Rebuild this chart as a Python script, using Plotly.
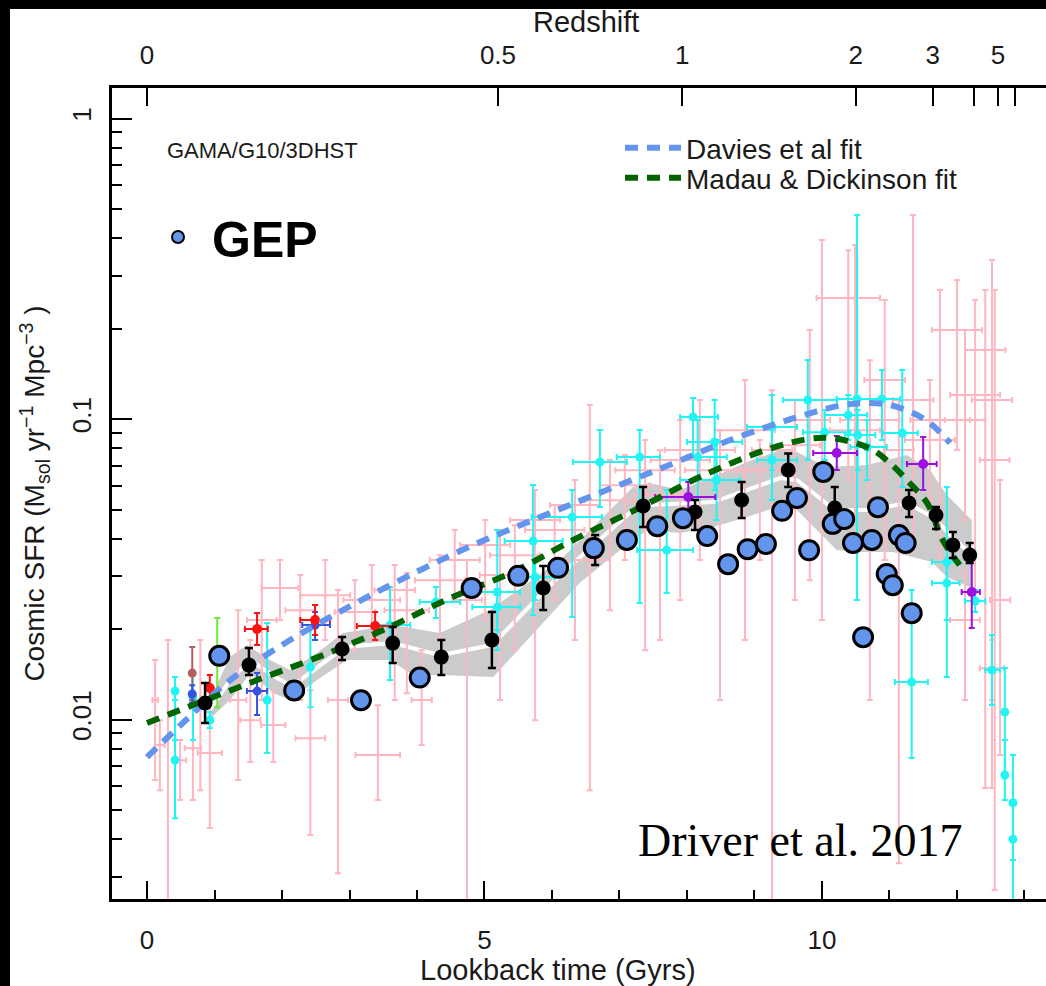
import numpy as np
import plotly.graph_objects as go

# ---------------- data (lookback time in Gyr, SFR density in Msol/yr/Mpc^3) ----------------
gep_t = [1.07, 2.18, 3.17, 4.04, 4.81, 5.50, 6.09, 6.62, 7.11, 7.56, 7.94, 8.30, 8.61, 8.90, 9.17,
         9.41, 9.63, 9.81, 10.02, 10.16, 10.33, 10.46, 10.61, 10.74, 10.83, 10.96, 11.05, 11.14, 11.24, 11.33]
gep_sfr = [0.0163, 0.0125, 0.0116, 0.0138, 0.0274, 0.0301, 0.0320, 0.0372, 0.0396, 0.0440, 0.0468, 0.0408,
           0.0329, 0.0369, 0.0384, 0.0495, 0.0546, 0.0366, 0.0667, 0.0448, 0.0465, 0.0387, 0.0188, 0.0396,
           0.0509, 0.0305, 0.0280, 0.0411, 0.0387, 0.0226]

gama_t = [0.86, 1.51, 2.89, 3.64, 4.36, 5.11, 5.87, 6.64, 7.35, 8.12, 8.81, 9.50, 10.19, 11.29, 11.69, 11.94, 12.19]
gama_sfr = [0.01135, 0.01518, 0.01717, 0.01797, 0.01614, 0.01839, 0.02739, 0.03664, 0.05134, 0.04903,
            0.05375, 0.06765, 0.05057, 0.05254, 0.04792, 0.03807, 0.03526]
gama_hi = [0.01323, 0.01731, 0.01881, 0.02032, 0.01839, 0.02280, 0.03243, 0.04111, 0.05938, 0.05375,
           0.06170, 0.07676, 0.05938, 0.05803, 0.05096, 0.04207, 0.03868]
gama_lo = [0.00974, 0.01406, 0.01578, 0.01542, 0.01406, 0.01484, 0.02314, 0.03267, 0.04371, 0.04272,
           0.04684, 0.05938, 0.04719, 0.04719, 0.04304, 0.03447, 0.03317]

band_upper_t = [0.89, 1.23, 1.48, 1.82, 2.12, 2.52, 2.90, 3.64, 4.34, 5.08, 6.12, 7.20, 7.45, 7.90, 8.39,
                8.89, 9.38, 9.63, 10.07, 10.67, 11.26, 11.60, 11.85, 12.22]
band_upper = [0.01118, 0.01615, 0.0177, 0.01578, 0.01462, 0.01665, 0.01941, 0.02063, 0.01941, 0.02314,
              0.03395, 0.05938, 0.06124, 0.05803, 0.06412, 0.07193, 0.07881, 0.07762, 0.06922, 0.07028,
              0.07591, 0.06765, 0.05585, 0.04613]
band_lower_t = [0.96, 1.23, 1.53, 1.87, 2.12, 2.52, 2.96, 3.60, 3.94, 4.34, 5.13, 6.41, 7.01, 7.41, 7.90,
                8.39, 8.89, 9.33, 9.63, 10.22, 10.56, 11.05, 11.63, 11.85, 12.22]
band_lower = [0.01019, 0.01161, 0.01428, 0.01225, 0.01161, 0.01353, 0.01578, 0.01578, 0.01406, 0.01406,
              0.01385, 0.02845, 0.03664, 0.04271, 0.04174, 0.04371, 0.04719, 0.05096, 0.04980, 0.03664,
              0.03608, 0.03608, 0.03343, 0.02980, 0.02739]
median_t = [0.93, 1.23, 1.53, 1.90, 2.15, 2.52, 2.93, 3.64, 4.34, 5.11, 6.12, 7.20, 7.45, 8.39, 8.89, 9.38,
            9.63, 10.19, 10.71, 11.26, 11.67, 11.90, 12.22]
median_sfr = [0.01076, 0.01353, 0.01578, 0.01385, 0.01292, 0.01495, 0.01743, 0.01797, 0.01639, 0.01770,
              0.03027, 0.04980, 0.05174, 0.05294, 0.05803, 0.06364, 0.06266, 0.04980, 0.04980, 0.05254,
              0.04684, 0.04111, 0.03526]

davies_t = [0.0, 0.53, 1.27, 2.12, 3.01, 3.90, 4.83, 5.79, 6.74, 7.70, 8.64, 9.64, 10.31, 10.67, 11.01,
            11.35, 11.60, 11.90]
davies_sfr = [0.00750, 0.00974, 0.01374, 0.01839, 0.02386, 0.03027, 0.03807, 0.04684, 0.05716, 0.06975,
              0.08513, 0.1016, 0.1113, 0.1130, 0.1113, 0.1047, 0.0970, 0.0832]
madau_t = [0.0, 0.68, 1.67, 2.61, 3.56, 4.49, 5.42, 6.37, 7.26, 8.19, 9.16, 9.79, 10.12, 10.44, 10.76,
           11.04, 11.30, 11.56, 11.79, 12.04]
madau_sfr = [0.00974, 0.01118, 0.01364, 0.01639, 0.02016, 0.02537, 0.03096, 0.04018, 0.05018, 0.06412,
             0.07881, 0.08579, 0.08647, 0.08385, 0.07881, 0.07028, 0.06124, 0.05254, 0.03957, 0.03267]

cyan_t = [0.415, 0.415, 0.68, 0.93, 1.78, 2.42, 3.60, 4.28, 5.19, 5.19, 5.72, 5.75, 6.30, 6.71, 7.30, 7.70,
          8.09, 8.16, 8.41, 8.44, 9.26, 9.26, 9.79, 10.04, 10.39, 10.52, 10.53, 10.67, 10.89, 11.19, 11.85,
          11.85, 12.27, 11.33, 12.52, 12.71, 12.71, 12.83, 12.83]
cyan_t_lo = [0.415, 0.415, 0.68, 0.93, 1.78, 2.42, 3.41, 4.04, 4.79, 4.82, 5.30, 5.45, 5.70, 6.31, 6.96,
             7.26, 7.90, 8.00, 8.00, 7.90, 8.89, 9.04, 9.42, 9.72, 10.04, 10.22, 10.34, 10.42, 10.52, 10.90,
             11.63, 11.63, 12.12, 11.08, 12.42, 12.71, 12.71, 12.83, 12.83]
cyan_t_hi = [0.415, 0.415, 0.68, 0.93, 1.78, 2.42, 3.90, 4.64, 5.53, 5.53, 6.16, 6.04, 6.74, 7.11, 7.60,
             8.09, 8.46, 8.59, 8.82, 8.79, 9.63, 9.63, 10.22, 10.42, 10.67, 10.86, 10.79, 10.96, 11.16, 11.42,
             12.04, 12.04, 12.42, 11.57, 12.64, 12.71, 12.71, 12.83, 12.83]
cyan_sfr = [0.00733, 0.01244, 0.01188, 0.00996, 0.01161, 0.01495, 0.02063, 0.02460, 0.02657, 0.02368,
            0.03926, 0.02980, 0.04719, 0.07193, 0.07470, 0.03664, 0.1016, 0.07470, 0.08385, 0.06266,
            0.09406, 0.07304, 0.1157, 0.09045, 0.1031, 0.1166, 0.08848, 0.08069, 0.1166, 0.08983,
            0.03343, 0.02845, 0.02480, 0.01333, 0.01461, 0.01059, 0.00654, 0.00528, 0.00400]
cyan_hi = [0.01161, 0.01385, 0.01406, 0.01059, 0.02095, 0.02032, 0.02760, 0.02760, 0.04272, 0.02698,
           0.06030, 0.03395, 0.05803, 0.09191, 0.09191, 0.05803, 0.1175, 0.09924, 0.1157, 0.08513,
           0.1202, 0.09191, 0.1572, 0.1072, 0.1202, 0.4775, 0.1072, 0.09924, 0.1455, 0.1455,
           0.05938, 0.03395, 0.02698, 0.02698, 0.01910, 0.01484, 0.00855, 0.00762, 0.00540]
cyan_lo = [0.00470, 0.00855, 0.00855, 0.00937, 0.00774, 0.01100, 0.01353, 0.02177, 0.01986, 0.01703,
           0.02228, 0.02499, 0.02194, 0.05096, 0.02442, 0.02636, 0.07470, 0.05375, 0.05803, 0.04612,
           0.06765, 0.05375, 0.07304, 0.07304, 0.08513, 0.02499, 0.06765, 0.06266, 0.08513, 0.05938,
           0.01385, 0.02144, 0.02280, 0.00745, 0.01118, 0.00644, 0.00540, 0.00341, 0.00241]

# literature compilation (pink), in log10 units
pink_t = [0.12, 0.19, 0.31, 0.49, 0.68, 0.79, 0.93, 1.35, 1.53, 1.70, 1.87, 1.97, 2.27, 2.42, 2.64, 2.83,
          3.08, 3.33, 3.42, 3.67, 3.85, 4.07, 4.34, 4.56, 4.74, 5.01, 5.23, 5.45, 5.75, 6.04, 6.34, 6.56,
          6.86, 7.08, 7.38, 7.60, 7.90, 8.19, 8.49, 8.86, 9.08, 9.26, 9.60, 9.82, 10.00, 10.39, 10.49,
          10.71, 10.93, 11.14, 11.35, 11.60, 11.75, 12.00, 12.12, 12.27, 12.42, 12.52, 12.56, 12.52,
          12.64, 12.12]
pink_log_sfr = [-1.935, -2.085, -1.902, -2.135, -2.095, -1.935, -2.111, -1.935, -2.002, -1.669, -2.018,
                -1.562, -1.636, -2.062, -1.586, -1.935, -1.642, -1.602, -2.118, -1.569, -1.636, -1.935,
                -1.536, -1.469, -1.602, -1.419, -1.519, -1.453, -1.336, -1.369, -1.286, -1.469, -1.270,
                -1.220, -1.170, -1.253, -1.136, -1.103, -1.170, -1.037, -1.170, -1.103, -1.087, -1.003,
                -0.937, -0.597, -1.037, -1.003, -0.870, -1.103, -0.937, -1.070, -1.003, -0.704, -1.003,
                -0.920, -0.770, -0.937, -1.136, -1.829, -1.602, -1.669]
pink_t_err = [0.04, 0.07, 0.0, 0.09, 0.12, 0.09, 0.18, 0.12, 0.15, 0.22, 0.18, 0.27, 0.22, 0.22, 0.37, 0.15,
              0.30, 0.42, 0.33, 0.30, 0.33, 0.15, 0.37, 0.37, 0.22, 0.37, 0.30, 0.37, 0.37, 0.44, 0.37, 0.30,
              0.37, 0.37, 0.44, 0.37, 0.44, 0.52, 0.52, 0.44, 0.30, 0.30, 0.37, 0.30, 0.22, 0.47, 0.37, 0.44,
              0.30, 0.22, 0.30, 0.37, 0.44, 0.37, 0.30, 0.37, 0.30, 0.30, 0.22, 0.18, 0.15, 0.22]
pink_log_top = [-1.802, -2.002, -1.735, -2.068, -1.935, -1.735, -1.935, -1.636, -1.735, -1.469, -1.902,
                -1.469, -1.519, -1.902, -1.469, -1.569, -1.536, -1.486, -1.952, -1.486, -1.512, -1.769,
                -1.453, -1.369, -1.469, -1.336, -1.369, -1.353, -1.236, -1.286, -1.203, -0.953, -1.136,
                -1.120, -1.070, -1.103, -1.003, -0.937, -1.037, -0.870, -1.070, -0.904, -0.937, -0.704,
                -0.404, -0.438, -0.421, -0.804, -0.604, -0.937, -0.321, -0.870, -0.571, -0.537, -0.704,
                -0.604, -0.571, -0.471, -0.571, -1.735, -1.203, -1.503]
pink_log_bot = [-2.201, -2.235, -2.75, -2.268, -2.268, -2.235, -2.361, -2.201, -2.141, -1.935, -2.141,
                -1.669, -1.935, -2.384, -1.735, -2.511, -1.769, -1.735, -2.268, -1.935, -1.912, -2.085,
                -1.735, -1.602, -2.75, -1.669, -1.935, -1.769, -2.002, -1.602, -1.735, -2.235, -1.636,
                -1.469, -1.769, -1.735, -1.602, -1.469, -1.935, -1.735, -1.469, -2.75, -1.602, -1.536,
                -1.669, -1.203, -1.336, -1.935, -1.469, -2.478, -1.436, -1.270, -1.469, -1.103, -1.336,
                -1.602, -2.228, -2.228, -2.567, -1.935, -2.118, -1.935]

red_t = [0.93, 1.63, 2.49, 3.38]
red_t_lo = [0.93, 1.45, 2.27, 3.11]
red_t_hi = [0.93, 1.79, 2.71, 3.64]
red_sfr = [0.01273, 0.02001, 0.02144, 0.02047]
red_hi = [0.01406, 0.02261, 0.02404, 0.02280]
red_lo = [0.01161, 0.01770, 0.01910, 0.01839]

royal_t = [0.67, 1.63, 2.49]
royal_t_lo = [0.67, 1.48, 2.30]
royal_t_hi = [0.67, 1.78, 2.71]
royal_sfr = [0.01216, 0.01244, 0.02063]
royal_hi = [0.01300, 0.01428, 0.02280]
royal_lo = [0.01140, 0.01035, 0.01839]

purple_t = [8.02, 10.22, 11.50, 12.22]
purple_t_lo = [7.53, 9.87, 11.26, 12.07]
purple_t_hi = [8.42, 10.52, 11.70, 12.34]
purple_sfr = [0.05501, 0.07706, 0.07083, 0.02657]
purple_hi = [0.06170, 0.08777, 0.08710, 0.03581]
purple_lo = [0.04719, 0.06765, 0.05803, 0.02016]

brown_t = [0.67]
brown_sfr = [0.01428]
brown_hi = [0.01743]
brown_lo = [0.01161]

green_t = [1.04]
green_sfr = [0.0158]
green_hi = [0.02177]
green_lo = [0.01100]

redshift_tick_lookback = [0.0, 5.20, 7.93, 10.50, 11.64, 12.61]
redshift_tick_text = ['0', '0.5', '1', '2', '3', '5']
redshift_minor_lookback = [12.25, 12.86]
lookback_ticks = [0, 5, 10]
sfr_ticks = [0.01, 0.1, 1]
sfr_tick_text = ['0.01', '0.1', '1']

# ---------------- helpers ----------------
FONT = "Liberation Sans, Arial, sans-serif"
TXT = '#1a1a1a'


def yerr(v, hi, lo):
    v, hi, lo = map(np.asarray, (v, hi, lo))
    return hi - v, v - lo


def xerr(t, tlo, thi):
    t, tlo, thi = map(np.asarray, (t, tlo, thi))
    return thi - t, t - tlo


def errpoints(t, v, hi, lo, color, size, tlo=None, thi=None, thick=2, cap=3):
    up, dn = yerr(v, hi, lo)
    kw = dict(
        x=t, y=v, mode='markers', showlegend=False, hoverinfo='skip',
        marker=dict(color=color, size=size, line=dict(width=0)),
        error_y=dict(type='data', symmetric=False, array=up, arrayminus=dn,
                     color=color, thickness=thick, width=cap),
    )
    if tlo is not None:
        r, l = xerr(t, tlo, thi)
        kw['error_x'] = dict(type='data', symmetric=False, array=r, arrayminus=l,
                             color=color, thickness=thick, width=cap)
    return go.Scatter(**kw)


fig = go.Figure()

# grey band + white median
band_x = list(band_upper_t) + list(band_lower_t[::-1])
band_y = list(band_upper) + list(band_lower[::-1])
fig.add_trace(go.Scatter(x=band_x, y=band_y, fill='toself', fillcolor='rgb(203,203,203)',
                         line=dict(width=0), mode='lines', showlegend=False, hoverinfo='skip'))
fig.add_trace(go.Scatter(x=median_t, y=median_sfr, mode='lines', line=dict(color='white', width=4),
                         showlegend=False, hoverinfo='skip'))

# pink literature compilation
p_v = 10 ** np.asarray(pink_log_sfr)
p_hi = 10 ** np.asarray(pink_log_top)
p_lo = 10 ** np.asarray(pink_log_bot)
fig.add_trace(go.Scatter(
    x=pink_t, y=p_v, mode='markers', showlegend=False, hoverinfo='skip',
    marker=dict(color='lightpink', size=3),
    error_y=dict(type='data', symmetric=False, array=p_hi - p_v, arrayminus=p_v - p_lo,
                 color='lightpink', thickness=2, width=3),
    error_x=dict(type='data', array=pink_t_err, color='lightpink', thickness=2, width=3)))

# cyan
fig.add_trace(errpoints(cyan_t, cyan_sfr, cyan_hi, cyan_lo, '#22F4F4', 9, cyan_t_lo, cyan_t_hi))
# small coloured points
fig.add_trace(errpoints(green_t, green_sfr, green_hi, green_lo, '#66EE33', 5))
fig.add_trace(errpoints(brown_t, brown_sfr, brown_hi, brown_lo, '#B06060', 9))
fig.add_trace(errpoints(royal_t, royal_sfr, royal_hi, royal_lo, '#3355DD', 9, royal_t_lo, royal_t_hi))
fig.add_trace(errpoints(red_t, red_sfr, red_hi, red_lo, '#FF1111', 10, red_t_lo, red_t_hi))
fig.add_trace(errpoints(purple_t, purple_sfr, purple_hi, purple_lo, '#9B10E0', 10, purple_t_lo, purple_t_hi))

# fits
fig.add_trace(go.Scatter(x=davies_t, y=davies_sfr, mode='lines', name='Davies et al fit',
                         line=dict(color='#6495ED', width=6, dash='13px,9px', shape='spline'),
                         legend='legend2', hoverinfo='skip'))
fig.add_trace(go.Scatter(x=madau_t, y=madau_sfr, mode='lines', name='Madau & Dickinson fit',
                         line=dict(color='#006400', width=6, dash='13px,9px', shape='spline'),
                         legend='legend3', hoverinfo='skip'))

# GAMA/G10/3DHST black points
fig.add_trace(errpoints(gama_t, gama_sfr, gama_hi, gama_lo, 'black', 15, thick=2.5, cap=4))

# GEP
fig.add_trace(go.Scatter(x=gep_t, y=gep_sfr, mode='markers', name='<b>GEP</b>', legend='legend',
                         marker=dict(color='#6495ED', size=19, line=dict(color='black', width=3)),
                         hoverinfo='skip'))

# dummy trace so the top (redshift) axis is drawn
fig.add_trace(go.Scatter(x=[0], y=[0.01], xaxis='x2', mode='markers', marker=dict(opacity=0),
                         showlegend=False, hoverinfo='skip'))

W, H = 1046, 986
L, R, T, B = 112, 0, 88, 87
pw, ph = W - L - R, H - T - B


def px(x):
    return (x - L) / pw


def py(y):
    return (H - B - y) / ph


xr = [-0.519, 13.32]
axis_common = dict(showline=True, linecolor='black', linewidth=3, ticks='inside', tickcolor='black',
                   tickwidth=2, showgrid=False, zeroline=False,
                   tickfont=dict(family=FONT, size=26, color=TXT))

fig.update_layout(
    width=W, height=H, margin=dict(l=L, r=R, t=T, b=B, pad=0),
    paper_bgcolor='white', plot_bgcolor='white',
    xaxis=dict(range=xr, tickvals=lookback_ticks, ticklen=18,
               minor=dict(tickvals=list(range(0, 14)), ticklen=9, tickwidth=2, tickcolor='black', ticks='inside'),
               ticklabelstandoff=16, **axis_common),
    xaxis2=dict(range=xr, overlaying='x', side='top', tickvals=redshift_tick_lookback,
                ticktext=redshift_tick_text, ticklen=18,
                minor=dict(tickvals=redshift_minor_lookback, ticklen=18, tickwidth=2, tickcolor='black',
                           ticks='inside'),
                ticklabelstandoff=11, **axis_common),
    yaxis=dict(type='log', range=[-2.597, 0.1015], tickvals=sfr_ticks, ticktext=sfr_tick_text,
               ticklen=20, tickangle=-90,
               minor=dict(tickvals=[m * d for d in (0.001, 0.01, 0.1) for m in range(2, 10)],
                          ticklen=10, tickwidth=2, tickcolor='black', ticks='inside'),
               title=dict(text='Cosmic SFR (M<sub>sol</sub> yr<sup>\u22121</sup> Mpc<sup>\u22123</sup> )',
                          font=dict(family=FONT, size=28, color=TXT), standoff=14),
               ticklabelstandoff=8, **axis_common),
    legend=dict(x=px(144), y=py(237), xanchor='left', yanchor='middle', bgcolor='rgba(0,0,0,0)',
                font=dict(family=FONT, size=50, color='black'), itemwidth=58, itemsizing='constant'),
    legend2=dict(x=px(620), y=py(148), xanchor='left', yanchor='middle', bgcolor='rgba(0,0,0,0)',
                 font=dict(family=FONT, size=28, color=TXT), itemwidth=56),
    legend3=dict(x=px(620), y=py(178), xanchor='left', yanchor='middle', bgcolor='rgba(0,0,0,0)',
                 font=dict(family=FONT, size=28, color=TXT), itemwidth=56),
    annotations=[
        dict(text='Redshift', x=px(586), y=py(22), xref='paper', yref='paper', xanchor='center',
             yanchor='middle', showarrow=False, font=dict(family=FONT, size=29, color=TXT)),
        dict(text='Lookback time (Gyrs)', x=px(558), y=py(970), xref='paper', yref='paper', xanchor='center',
             yanchor='middle', showarrow=False, font=dict(family=FONT, size=29, color=TXT)),
        dict(text='GAMA/G10/3DHST', x=px(165), y=py(150), xref='paper', yref='paper', xanchor='left',
             yanchor='middle', showarrow=False, font=dict(family=FONT, size=22, color=TXT)),
        dict(text='Driver et al. 2017', x=px(636), y=py(840), xref='paper', yref='paper', xanchor='left',
             yanchor='middle', showarrow=False,
             font=dict(family='Liberation Serif, Times New Roman, serif', size=46, color='black')),
    ],
    shapes=[
        dict(type='rect', xref='paper', yref='paper', x0=px(0), x1=px(10), y0=py(H), y1=py(0),
             fillcolor='black', line=dict(width=0), layer='above'),
        dict(type='rect', xref='paper', yref='paper', x0=px(0), x1=px(W), y0=py(9), y1=py(0),
             fillcolor='black', line=dict(width=0), layer='above'),
    ],
)

fig.write_html('out.html', config={'displayModeBar': False},
               post_script="document.body.style.margin='0';document.body.style.overflow='hidden';")
